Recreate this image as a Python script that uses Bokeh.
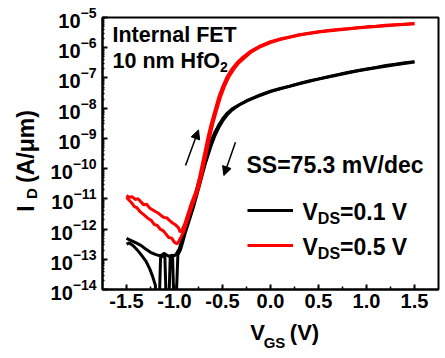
import numpy as np
from bokeh.plotting import figure
from bokeh.models import (FixedTicker, NumeralTickFormatter, Label, Arrow, NormalHead,
                          Legend, LegendItem, LinearAxis)
from bokeh.embed import file_html
from bokeh.resources import INLINE

# ---------------- data (log10 of I_D in A/um) ----------------
# V_DS = 0.1 V, sweep 1 (noisy off branch with sign changes)
black1_vgs = [-1.50, -1.47, -1.43, -1.38, -1.34, -1.30, -1.26, -1.23, -1.20, -1.185, -1.16, -1.145,
              -1.12, -1.10, -1.085, -1.06, -1.045, -1.02, -1.005, -0.985, -0.965, -0.94, -0.92,
              -0.89, -0.86, -0.83, -0.80, -0.77, -0.74, -0.71, -0.68, -0.65, -0.62, -0.58, -0.54,
              -0.50, -0.45, -0.40, -0.32, -0.24, -0.12, 0.0, 0.10, 0.20, 0.30, 0.40, 0.50, 0.60,
              0.70, 0.80, 0.90, 1.00, 1.10, 1.20, 1.30, 1.40, 1.50]
black1_logid = [-12.50, -12.46, -12.55, -12.72, -12.88, -13.05, -13.30, -13.55, -13.85, -14.6, -14.6,
                -12.95, -12.88, -12.92, -14.6, -14.6, -12.95, -12.92, -14.6, -14.6, -12.85, -12.70,
                -12.50, -12.15, -11.85, -11.55, -11.25, -10.90, -10.55, -10.20, -9.85, -9.55, -9.25,
                -8.92, -8.65, -8.43, -8.22, -8.06, -7.88, -7.74, -7.58, -7.44, -7.35, -7.27, -7.18,
                -7.10, -7.03, -6.96, -6.89, -6.82, -6.76, -6.70, -6.65, -6.59, -6.55, -6.50, -6.46]
# V_DS = 0.1 V, sweep 2
black2_vgs = [1.50, 1.30, 1.10, 0.90, 0.70, 0.50, 0.30, 0.10, 0.0, -0.12, -0.24, -0.32, -0.40, -0.45,
              -0.50, -0.54, -0.58, -0.62, -0.65, -0.68, -0.71, -0.74, -0.77, -0.80, -0.83, -0.86,
              -0.89, -0.92, -0.95, -0.98, -1.00, -1.03, -1.06, -1.09, -1.11, -1.13, -1.16, -1.20,
              -1.25, -1.30, -1.35, -1.40, -1.45, -1.50]
black2_logid = [-6.47, -6.56, -6.66, -6.77, -6.90, -7.04, -7.19, -7.36, -7.45, -7.59, -7.75, -7.88,
                -8.02, -8.16, -8.36, -8.56, -8.80, -9.10, -9.38, -9.68, -10.02, -10.35, -10.70,
                -11.05, -11.38, -11.70, -12.00, -12.35, -12.65, -12.82, -12.88, -12.87, -12.90,
                -12.84, -12.80, -12.86, -12.88, -12.84, -12.77, -12.66, -12.54, -12.46, -12.38, -12.31]
# V_DS = 0.5 V, sweep 1
red1_vgs = [-1.50, -1.47, -1.44, -1.41, -1.38, -1.35, -1.32, -1.29, -1.26, -1.23, -1.20, -1.17,
            -1.14, -1.11, -1.08, -1.05, -1.02, -0.99, -0.96, -0.94, -0.92, -0.89, -0.86, -0.83,
            -0.80, -0.77, -0.74, -0.71, -0.68, -0.65, -0.62, -0.58, -0.54, -0.50, -0.45, -0.40,
            -0.35, -0.30, -0.20, -0.10, 0.0, 0.10, 0.20, 0.30, 0.40, 0.50, 0.60, 0.70, 0.80, 0.90,
            1.00, 1.10, 1.20, 1.30, 1.40, 1.50]
red1_logid = [-10.89, -10.95, -10.93, -11.02, -11.00, -11.10, -11.20, -11.18, -11.30, -11.36,
              -11.42, -11.47, -11.55, -11.62, -11.63, -11.72, -11.80, -11.86, -11.95, -12.10,
              -12.02, -11.80, -11.50, -11.20, -10.95, -10.70, -10.30, -9.85, -9.40, -8.95, -8.55,
              -8.10, -7.65, -7.30, -6.95, -6.70, -6.50, -6.35, -6.10, -5.93, -5.80, -5.71, -5.64,
              -5.57, -5.52, -5.47, -5.43, -5.40, -5.37, -5.34, -5.31, -5.29, -5.26, -5.24, -5.22,
              -5.20]
# V_DS = 0.5 V, sweep 2
red2_vgs = [1.50, 1.30, 1.10, 0.90, 0.70, 0.50, 0.30, 0.10, 0.0, -0.10, -0.20, -0.28, -0.33, -0.38,
            -0.43, -0.48, -0.52, -0.56, -0.60, -0.63, -0.66, -0.69, -0.72, -0.75, -0.78, -0.81,
            -0.84, -0.87, -0.90, -0.93, -0.97, -1.00, -1.03, -1.06, -1.09, -1.12, -1.15, -1.18,
            -1.21, -1.24, -1.27, -1.30, -1.33, -1.36, -1.39, -1.42, -1.45, -1.48, -1.50]
red2_logid = [-5.21, -5.25, -5.30, -5.35, -5.41, -5.48, -5.58, -5.73, -5.83, -5.96, -6.14, -6.36,
              -6.50, -6.70, -6.94, -7.28, -7.62, -8.05, -8.50, -8.90, -9.35, -9.80, -10.25,
              -10.65, -10.92, -11.18, -11.45, -11.75, -12.05, -12.25, -12.49, -12.44, -12.30,
              -12.28, -12.16, -12.05, -12.00, -11.88, -11.85, -11.72, -11.66, -11.58, -11.50,
              -11.42, -11.30, -11.25, -11.12, -11.02, -10.95]

x_ticks = [-1.5, -1.0, -0.5, 0.0, 0.5, 1.0, 1.5]
x_minor = [-1.25, -0.75, -0.25, 0.25, 0.75, 1.25]
y_exponents = [-14, -13, -12, -11, -10, -9, -8, -7, -6, -5]
legend_labels = ["0.1", "0.5"]
# sweep-direction arrows (V_GS, log10 I_D)
arrow_up = [(-0.885, -9.90), (-0.75, -8.72)]
arrow_down = [(-0.365, -9.13), (-0.486, -10.23)]

FONT = "Liberation Sans"
BLACK = "#000000"
RED = "#ff0000"

# frame in canvas pixels: left 102, top 17, 336 x 272
p = figure(frame_width=336, frame_height=272, min_border_left=102, min_border_top=17,
           min_border_right=7, min_border_bottom=69,
           x_range=(-1.75, 1.75), y_range=(1e-14, 1e-5), y_axis_type="log",
           output_backend="svg", toolbar_location=None)
p.background_fill_color = "white"
p.border_fill_color = "white"
p.grid.visible = False
p.outline_line_color = "black"
p.outline_line_width = 2

tolin = lambda arr: [10 ** v for v in arr]
rb1 = p.line(black1_vgs, tolin(black1_logid), line_color=BLACK, line_width=3)
rb2 = p.line(black2_vgs, tolin(black2_logid), line_color=BLACK, line_width=3)
rr1 = p.line(red1_vgs, tolin(red1_logid), line_color=RED, line_width=3)
rr2 = p.line(red2_vgs, tolin(red2_logid), line_color=RED, line_width=3)

# axes
for ax in (p.xaxis[0], p.yaxis[0]):
    ax.axis_line_width = 2
    ax.major_tick_line_width = 2
    ax.minor_tick_line_width = 1.5
    ax.major_tick_out = 0
    ax.minor_tick_out = 0
    ax.major_label_text_font = FONT
    ax.major_label_text_font_style = "bold"
    ax.major_label_text_font_size = "20px"
    ax.major_label_text_color = "black"

p.xaxis.ticker = FixedTicker(ticks=x_ticks, minor_ticks=x_minor)
p.xaxis.formatter = NumeralTickFormatter(format="0.0")
p.xaxis.major_tick_in = 5
p.xaxis.minor_tick_in = 3
p.xaxis.major_label_standoff = 4

decades = [10.0 ** e for e in y_exponents]
minors = [m * 10.0 ** e for e in y_exponents[:-1] for m in range(2, 10)]
p.yaxis.ticker = FixedTicker(ticks=decades, minor_ticks=minors)
p.yaxis.major_tick_in = 5
p.yaxis.minor_tick_in = 2
p.yaxis.major_label_standoff = 6

# ---------- text helpers (canvas pixel -> data coordinates) ----------
def dx(px):
    return (px - 102) / 96.0 - 1.75

def dy(py):
    return 10 ** (-5 - (py - 17) / (272 / 9.0))

W = {'I': .278, 'n': .611, 't': .333, 'e': .556, 'r': .389, 'a': .556, 'l': .278, ' ': .278,
     'F': .611, 'E': .667, 'T': .611, '1': .556, '0': .556, 'm': .889, 'H': .722, 'f': .333,
     'O': .778, '2': .556, 'S': .667, '=': .584, '7': .556, '5': .556, '.': .278, '3': .556,
     'V': .667, '/': .278, 'd': .611, 'c': .556, 'D': .722, 'G': .778, '(': .333, ')': .333,
     'A': .722, 'μ': .611}

def tw(s, size):
    return sum(W.get(c, .6) for c in s) * size

BASE_SHIFT = -7  # Bokeh's rendered baseline sits a little lower than the anchor

def rich(pieces, px, py):
    pos = px
    for text, size, shift in pieces:
        lab = Label(x=dx(pos), y=dy(py + shift + BASE_SHIFT), text=text)
        pos += tw(text, size)
        lab.text_font = FONT
        lab.text_font_style = "bold"
        lab.text_font_size = f"{size}px"
        lab.text_color = "black"
        lab.text_baseline = "alphabetic"
        lab.text_align = "left"
        p.add_layout(lab)

rich([("Internal FET", 21.5, 0)], 112, 41)
rich([("10 nm HfO", 21.5, 0), ("2", 14, 6)], 112, 67)
rich([("SS=75.3 mV/dec", 23, 0)], 246, 171)
rich([("V", 23, 0), ("DS", 16, 7), (f"={legend_labels[0]} V", 23, 0)], 302, 218)
rich([("V", 23, 0), ("DS", 16, 7), (f"={legend_labels[1]} V", 23, 0)], 302, 253)

# ---------- axis titles with subscripts: stacked tick-free axes in the side panels ----------
def text_axis(side, ticks, labels, size, standoff, orientation="horizontal"):
    ax = LinearAxis(ticker=FixedTicker(ticks=ticks, minor_ticks=[]),
                    major_label_overrides={t: l for t, l in zip(ticks, labels)},
                    axis_line_alpha=0, major_tick_line_alpha=0,
                    minor_tick_line_alpha=0, major_tick_in=0, major_tick_out=0,
                    minor_tick_in=0, minor_tick_out=0, major_label_standoff=standoff,
                    major_label_text_font=FONT, major_label_text_font_style="bold",
                    major_label_text_font_size=f"{size}px", major_label_text_color="black",
                    major_label_orientation=orientation)
    p.add_layout(ax, side)

# x title: "V" + sub "GS" + "(V)" (centres in canvas px)
xt_centres = [257, 274, 304]
text_axis("below", [round(dx(xt_centres[0]), 5), round(dx(xt_centres[2]), 5)], ["V", "(V)"], 22, 9)
text_axis("below", [round(dx(xt_centres[1]), 5)], ["GS"], 15, -14)

# y title: "I" + sub "D" + "(A/μm)", reading upwards (centres in canvas px)
yt_centres = [208, 193, 146]
text_axis("left", [dy(yt_centres[0]), dy(yt_centres[2])], ["I", "(A/μm)"], 23, 9, "vertical")
text_axis("left", [dy(yt_centres[1])], ["D"], 15, -30, "vertical")

# arrows
for (x0, y0), (x1, y1) in (arrow_up, arrow_down):
    p.add_layout(Arrow(end=NormalHead(size=9, fill_color="black", line_color="black", line_width=1),
                       x_start=x0, y_start=10 ** y0, x_end=x1, y_end=10 ** y1,
                       line_color="black", line_width=1.5))

# legend swatches (text drawn as rich labels above)
legend = Legend(items=[LegendItem(label=" ", renderers=[rb1]), LegendItem(label=" ", renderers=[rr1])],
                location=(145, 34), glyph_width=46, glyph_height=20, spacing=15, padding=0,
                margin=0, label_standoff=0, label_width=0, label_height=0,
                label_text_font_size="1px", border_line_alpha=0, background_fill_alpha=0)
p.add_layout(legend)

open("out.html", "w").write(file_html(p, INLINE))
